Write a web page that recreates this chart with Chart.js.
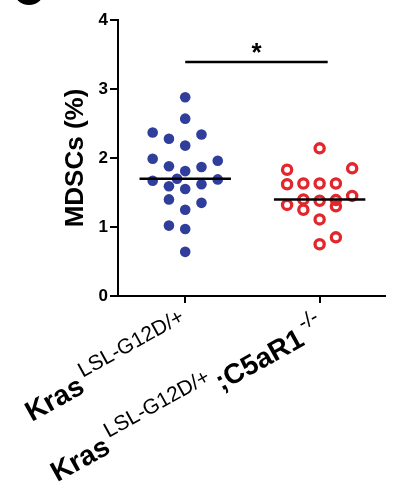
<!DOCTYPE html>
<html>
<head>
<meta charset="utf-8">
<script src="https://cdn.jsdelivr.net/npm/chart.js@4.4.0/dist/chart.umd.min.js"></script>
<style>
  body { margin: 0; background: #fff; }
  #wrap { width: 393px; height: 493px; position: relative; }
</style>
</head>
<body>
<div id="wrap"><canvas id="myChart"></canvas></div>
<script>
// group labels: [text, 'b' = main bold / 's' = superscript]
var groupLabels = [
  [['Kras', 'b'], ['LSL-G12D/+', 's']],
  [['Kras', 'b'], ['LSL-G12D/+', 's'], [';C5aR1', 'b'], ['-/-', 's']]
];
var yTicks = [0, 1, 2, 3, 4];

// KrasLSL-G12D/+ (blue, filled)
var krasValues = [2.88, 2.57, 2.37, 2.28, 2.34, 2.18, 1.99, 1.88, 1.87, 1.96, 1.81,
  1.67, 1.70, 1.59, 1.55, 1.62, 1.69, 1.40, 1.35, 1.25, 1.02, 0.97, 0.64];
var krasSlots = [0, 0, -2, -1, 1, 0, -2, -1, 1, 2, 0,
  -2, -0.5, -1, 0, 1, 2, -1, 1, 0, -1, 0, 0];

// KrasLSL-G12D/+;C5aR1-/- (red, open)
var c5Values = [2.14, 1.83, 1.85, 1.62, 1.63, 1.63, 1.63, 1.32, 1.40, 1.38, 1.39,
  1.45, 1.25, 1.30, 1.11, 0.75, 0.85];
var c5Slots = [0, -2, 2, -2, -1, 0, 1, -2, -1, 0, 1,
  2, -1, 1, 0, 0, 1];

var sigText = '*';
var sigLevel = 3.39;

var FONT = '"Liberation Sans", Arial, Helvetica, sans-serif';
var SLOT = 0.121;
var HALF = 0.34;
Chart.defaults.font.family = FONT;

function median(arr) {
  var s = arr.slice().sort(function(a, b) { return a - b; });
  var m = Math.floor(s.length / 2);
  return s.length % 2 ? s[m] : (s[m - 1] + s[m]) / 2;
}

function toPoints(values, slots, group) {
  return values.map(function(v, i) {
    return {x: group + slots[i] * SLOT, y: v};
  });
}

var extras = {
  id: 'extras',
  afterDraw: function(chart) {
    var ctx = chart.ctx, xs = chart.scales.x, ys = chart.scales.y;
    ctx.save();
    // cropped panel marker in the corner
    ctx.fillStyle = '#000';
    ctx.beginPath();
    ctx.ellipse(29, -9, 15, 14, 0, 0, 2 * Math.PI);
    ctx.fill();

    // significance star
    ctx.font = 'bold 26px ' + FONT;
    ctx.textAlign = 'center';
    ctx.textBaseline = 'alphabetic';
    ctx.fillText(sigText, xs.getPixelForValue(1.53), ys.getPixelForValue(sigLevel) - 1);

    // rotated group labels with superscripts
    ctx.textAlign = 'left';
    var fonts = {b: 'bold 28px ' + FONT, s: '21px ' + FONT};
    groupLabels.forEach(function(parts, i) {
      var total = 0;
      parts.forEach(function(p, j) {
        ctx.font = fonts[p[1]];
        total += ctx.measureText(p[0]).width + (j > 0 ? 4 : 0);
      });
      ctx.save();
      ctx.translate(xs.getPixelForValue(i + 1) + 7, xs.top + 37);
      ctx.rotate(-29 * Math.PI / 180);
      var x = -total;
      parts.forEach(function(p, j) {
        if (j > 0) x += 4;
        ctx.font = fonts[p[1]];
        ctx.fillText(p[0], x, p[1] === 's' ? -14 : 0);
        x += ctx.measureText(p[0]).width;
      });
      ctx.restore();
    });
    ctx.restore();
  }
};

function drawChart() {
  var ctx = document.getElementById('myChart').getContext('2d');
  var lineStyle = {type: 'line', showLine: true, borderColor: '#000', borderWidth: 2.5,
    pointRadius: 0, order: 0};
  var myChart = new Chart(ctx, {
    type: 'scatter',
    data: {
      datasets: [
        Object.assign({data: [{x: 1 - HALF, y: median(krasValues)}, {x: 1 + HALF, y: median(krasValues)}]}, lineStyle),
        Object.assign({data: [{x: 2 - HALF, y: median(c5Values)}, {x: 2 + HALF, y: median(c5Values)}]}, lineStyle),
        Object.assign({data: [{x: 1, y: sigLevel}, {x: 2.06, y: sigLevel}]}, lineStyle),
        {
          data: toPoints(krasValues, krasSlots, 1),
          backgroundColor: '#2f3e9a',
          borderWidth: 0,
          pointRadius: 5.3,
          order: 1
        },
        {
          data: toPoints(c5Values, c5Slots, 2),
          backgroundColor: 'rgba(255,255,255,0)',
          borderColor: '#e3262c',
          borderWidth: 3.3,
          pointRadius: 4.6,
          order: 1
        }
      ]
    },
    options: {
      animation: false,
      responsive: true,
      maintainAspectRatio: false,
      layout: {padding: {top: 20, left: 0, right: 0, bottom: 0}},
      plugins: {legend: {display: false}, tooltip: {enabled: false}},
      scales: {
        x: {
          type: 'linear', min: 0.5, max: 2.487,
          afterBuildTicks: function(s) { s.ticks = [{value: 1}, {value: 2}]; },
          afterFit: function(s) { s.height = 197; },
          ticks: {display: false},
          grid: {drawOnChartArea: false, drawTicks: true, tickLength: 7, color: '#000', lineWidth: 2},
          border: {color: '#000', width: 2}
        },
        y: {
          min: 0, max: 4,
          afterBuildTicks: function(s) { s.ticks = yTicks.map(function(v) { return {value: v}; }); },
          afterFit: function(s) { s.width = 118; },
          ticks: {color: '#000', padding: 2, font: {size: 17, weight: 'bold'}},
          grid: {drawOnChartArea: false, drawTicks: true, tickLength: 8, color: '#000', lineWidth: 2},
          border: {color: '#000', width: 2},
          title: {display: true, text: 'MDSCs (%)', color: '#000',
            font: {size: 26, weight: 'bold'}, padding: {top: 60, bottom: 0}}
        }
      }
    },
    plugins: [extras]
  });
}

drawChart();
</script>
</body>
</html>
